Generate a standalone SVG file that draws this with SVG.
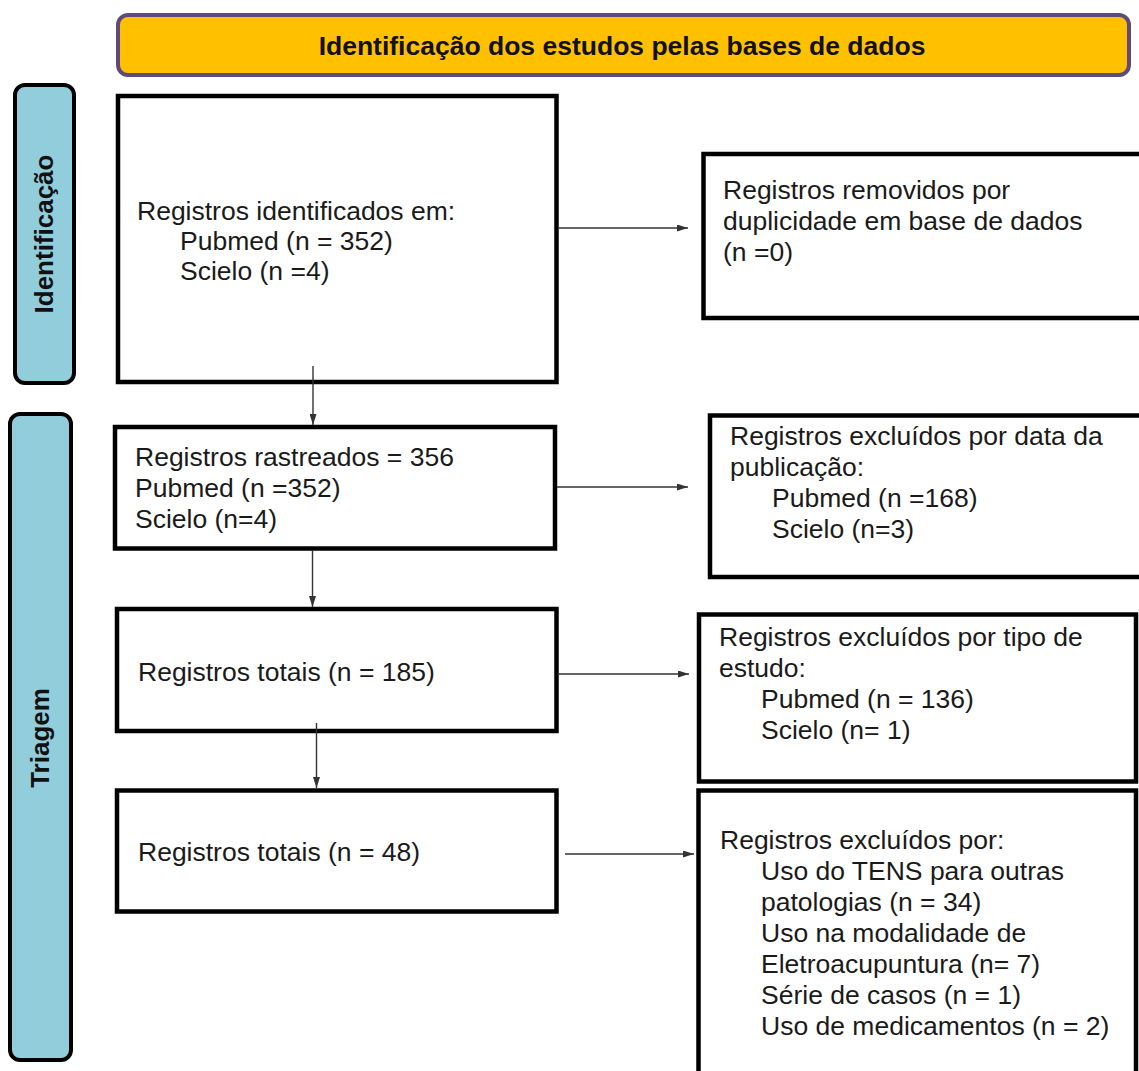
<svg xmlns="http://www.w3.org/2000/svg" width="1139" height="1071" viewBox="0 0 1139 1071">
<style>
.box{fill:#ffffff;stroke:#000000;stroke-width:4.5}
.side{fill:#92CDDC;stroke:#000000;stroke-width:4}
.hdr{fill:#FFC000;stroke:#604A7B;stroke-width:4}
.t{font-family:"Liberation Sans",Arial,sans-serif;font-size:26.5px;fill:#1a1a1a}
.b{font-family:"Liberation Sans",Arial,sans-serif;font-size:26px;font-weight:bold;fill:#111111}
.conn{stroke:#333333;stroke-width:1.4;fill:none;marker-end:url(#ah)}
</style>
<defs>
<marker id="ah" markerUnits="userSpaceOnUse" markerWidth="11" markerHeight="7" refX="11" refY="3.5" orient="auto">
<path d="M0,0 L11,3.5 L0,7 z" fill="#333333"/>
</marker>
</defs>
<rect width="1139" height="1071" fill="#ffffff"/>

<g id="header">
<rect class="hdr" x="118" y="15" width="1011" height="60" rx="10"/>
<text class="b" x="622" y="55" text-anchor="middle" style="font-size:26.5px">Identificação dos estudos pelas bases de dados</text>
</g>

<g id="side-identificacao">
<rect class="side" x="15" y="85" width="59" height="298" rx="10"/>
<text class="b" transform="translate(53,234) rotate(-90)" x="0" y="0" text-anchor="middle">Identificação</text>
</g>

<g id="side-triagem">
<rect class="side" x="10" y="414" width="61" height="646" rx="10"/>
<text class="b" transform="translate(49,738) rotate(-90)" x="0" y="0" text-anchor="middle">Triagem</text>
</g>

<g id="box-identificados">
<rect class="box" x="118" y="96" width="438.5" height="286"/>
<text class="t" x="137" y="220">Registros identificados em:</text>
<text class="t" x="180" y="250">Pubmed (n = 352)</text>
<text class="t" x="180" y="280">Scielo (n =4)</text>
</g>

<g id="box-removidos">
<rect class="box" x="703.5" y="154" width="450" height="164"/>
<text class="t" x="723" y="199">Registros removidos por</text>
<text class="t" x="723" y="230">duplicidade em base de dados</text>
<text class="t" x="723" y="261">(n =0)</text>
</g>

<g id="box-rastreados">
<rect class="box" x="115" y="427" width="440" height="121.5"/>
<text class="t" x="135" y="466">Registros rastreados = 356</text>
<text class="t" x="135" y="497">Pubmed (n =352)</text>
<text class="t" x="135" y="528">Scielo (n=4)</text>
</g>

<g id="box-excluidos-data">
<rect class="box" x="710" y="415.5" width="450" height="161.5"/>
<text class="t" x="730" y="445">Registros excluídos por data da</text>
<text class="t" x="730" y="476">publicação:</text>
<text class="t" x="772" y="507">Pubmed (n =168)</text>
<text class="t" x="772" y="538">Scielo (n=3)</text>
</g>

<g id="box-totais-185">
<rect class="box" x="117" y="609" width="439.5" height="122"/>
<text class="t" x="138" y="681">Registros totais (n = 185)</text>
</g>

<g id="box-excluidos-tipo">
<rect class="box" x="699" y="614.5" width="437" height="167"/>
<text class="t" x="719" y="646">Registros excluídos por tipo de</text>
<text class="t" x="719" y="677">estudo:</text>
<text class="t" x="761" y="708">Pubmed (n = 136)</text>
<text class="t" x="761" y="739">Scielo (n= 1)</text>
</g>

<g id="box-totais-48">
<rect class="box" x="117" y="790.5" width="439.5" height="121"/>
<text class="t" x="138" y="861">Registros totais (n = 48)</text>
</g>

<g id="box-excluidos-por">
<rect class="box" x="698.5" y="790.5" width="437.5" height="300"/>
<text class="t" x="720" y="849">Registros excluídos por:</text>
<text class="t" x="761" y="880">Uso do TENS para outras</text>
<text class="t" x="761" y="911">patologias (n = 34)</text>
<text class="t" x="761" y="942">Uso na modalidade de</text>
<text class="t" x="761" y="973">Eletroacupuntura (n= 7)</text>
<text class="t" x="761" y="1004">Série de casos (n = 1)</text>
<text class="t" x="761" y="1035">Uso de medicamentos (n = 2)</text>
</g>

<g id="connectors">
<line class="conn" x1="558" y1="228" x2="688" y2="228"/>
<line class="conn" x1="557" y1="487" x2="688" y2="487"/>
<line class="conn" x1="558" y1="674" x2="689" y2="674"/>
<line class="conn" x1="565" y1="854" x2="694" y2="854"/>
<line class="conn" x1="313" y1="366" x2="313" y2="425"/>
<line class="conn" x1="312.5" y1="550" x2="312.5" y2="607"/>
<line class="conn" x1="316.5" y1="723" x2="316.5" y2="788"/>
</g>
</svg>
